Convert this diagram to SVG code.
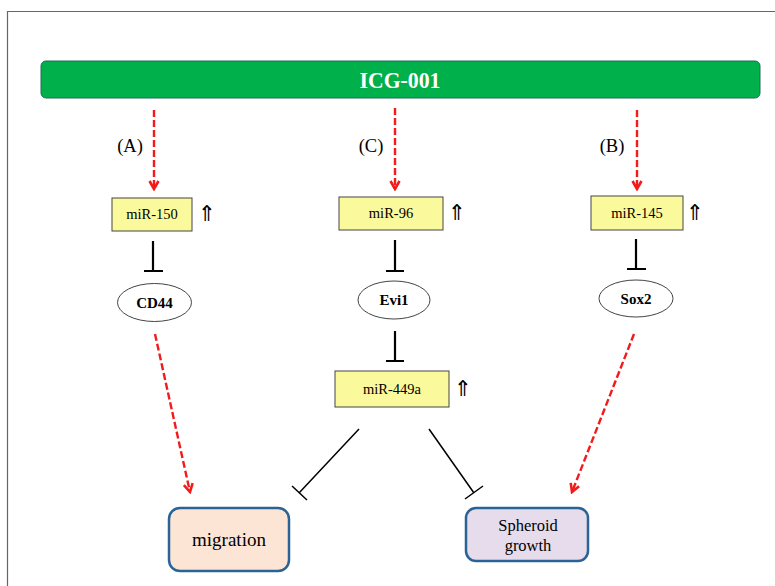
<svg xmlns="http://www.w3.org/2000/svg" width="775" height="586" viewBox="0 0 775 586" font-family="'Liberation Serif', 'DejaVu Serif', serif">
<style>
text{font-family:'Liberation Serif','DejaVu Serif',serif;fill:#000}
.mir{fill:#fafa9c;stroke:#444;stroke-width:1}
.ell{fill:#fff;stroke:#444;stroke-width:1}
.red{stroke:#f21b1b;stroke-width:2.4;stroke-dasharray:7,3;fill:none}
.inh{stroke:#000;stroke-width:2.2;fill:none}
.inh2{stroke:#000;stroke-width:1.5;fill:none}
.lbl{font-size:14.5px;text-anchor:middle}
.gene{font-size:15px;font-weight:bold;text-anchor:middle}
.up{font-size:22px;text-anchor:middle;font-family:'DejaVu Sans',sans-serif}
.let{font-size:18.5px;text-anchor:middle}
</style>
<defs>
<marker id="ah" viewBox="0 0 12 12" refX="10" refY="6" markerWidth="12" markerHeight="12" orient="auto" markerUnits="userSpaceOnUse">
<path d="M2,1.5 L10,6 L2,10.5" fill="none" stroke="#f21b1b" stroke-width="2.6"/>
</marker>
</defs>
<rect x="0" y="0" width="775" height="586" fill="#fff"/>
<path d="M7.5,586 V11.5 H775" fill="none" stroke="#666" stroke-width="1.2"/>
<g id="icg">
<rect x="41" y="61" width="719" height="37" rx="5" fill="#00b04b" stroke="#1f6b5a" stroke-width="1"/>
<text x="400" y="88" font-size="24" font-weight="bold" text-anchor="middle" textLength="81" lengthAdjust="spacingAndGlyphs" style="fill:#fff">ICG-001</text>
</g>
<g id="labels">
<text class="let" x="130" y="152">(A)</text>
<text class="let" x="371" y="152">(C)</text>
<text class="let" x="612" y="152">(B)</text>
</g>
<g id="mir150">
<rect class="mir" x="112" y="198" width="80" height="33"/>
<text class="lbl" x="152" y="219">miR-150</text>
<text class="up" x="207" y="221">⇑</text>
</g>
<g id="mir96">
<rect class="mir" x="339" y="197" width="104" height="33"/>
<text class="lbl" x="391" y="218">miR-96</text>
<text class="up" x="457" y="220">⇑</text>
</g>
<g id="mir145">
<rect class="mir" x="591" y="196" width="92" height="34"/>
<text class="lbl" x="637" y="218">miR-145</text>
<text class="up" x="695" y="220">⇑</text>
</g>
<g id="cd44">
<ellipse class="ell" cx="154.5" cy="302.5" rx="37" ry="19"/>
<text class="gene" x="154.5" y="307.5">CD44</text>
</g>
<g id="evi1">
<ellipse class="ell" cx="394" cy="300" rx="36" ry="19"/>
<text class="gene" x="394" y="305">Evi1</text>
</g>
<g id="sox2">
<ellipse class="ell" cx="636" cy="298.5" rx="37" ry="18.5"/>
<text class="gene" x="636" y="303.5">Sox2</text>
</g>
<g id="mir449a">
<rect class="mir" x="335" y="371" width="114" height="36"/>
<text class="lbl" x="392" y="394">miR-449a</text>
<text class="up" x="463" y="396">⇑</text>
</g>
<g id="migration">
<rect x="169" y="508" width="120" height="63" rx="11" fill="#fde5d6" stroke="#2a6496" stroke-width="2.5"/>
<text x="229" y="546" font-size="19" text-anchor="middle">migration</text>
</g>
<g id="spheroid">
<rect x="466" y="508" width="122" height="53" rx="10" fill="#e6dceb" stroke="#2a6496" stroke-width="2.5"/>
<text x="528" y="531" font-size="16.5" text-anchor="middle">Spheroid</text>
<text x="528" y="551" font-size="16.5" text-anchor="middle">growth</text>
</g>
<g id="connectors">
<path class="red" d="M154,110 V189" marker-end="url(#ah)"/>
<path class="red" d="M395,108 V189" marker-end="url(#ah)"/>
<path class="red" d="M637,110 V189" marker-end="url(#ah)"/>
<path class="inh" d="M153,241 V271 M144,271 H163"/>
<path class="inh" d="M395,240 V271 M386,271 H404"/>
<path class="inh" d="M636,239 V269 M627,269 H646"/>
<path class="inh" d="M395,331 V361 M386,361 H404"/>
<path class="red" d="M155,334 L190,492" marker-end="url(#ah)"/>
<path class="red" d="M634,334 L572,492" marker-end="url(#ah)"/>
<path class="inh2" d="M359,429 L299,493 M292,486 L307,500"/>
<path class="inh2" d="M429,429 L474,493 M465,499 L483,486"/>
</g>
</svg>
